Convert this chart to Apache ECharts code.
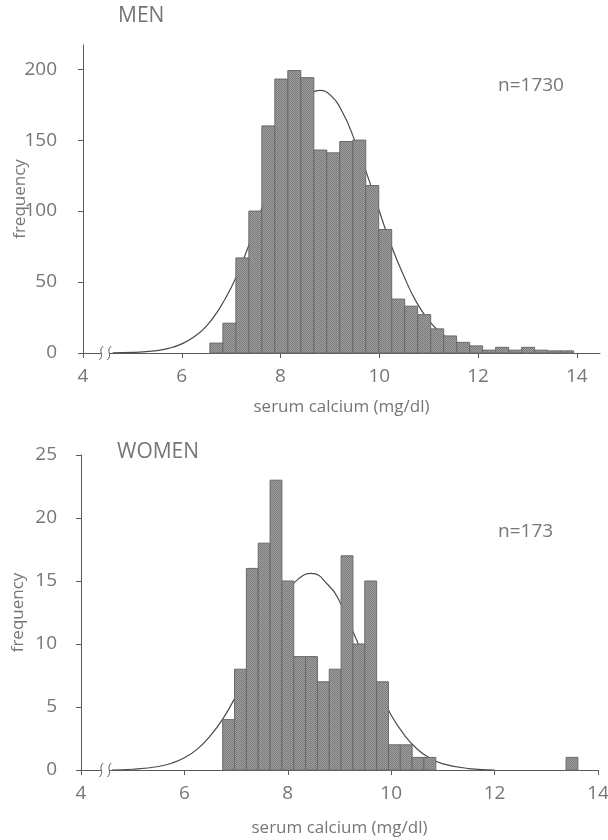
<!DOCTYPE html>
<html><head><meta charset="utf-8">
<script src="https://cdn.jsdelivr.net/npm/echarts@6/dist/echarts.min.js"></script>
<style>html,body{margin:0;padding:0;background:#fff}#c{width:608px;height:840px}</style>
</head><body><div id="c"></div>
<script>
// ---- data ----
const xTicks = [4, 6, 8, 10, 12, 14];
const menYTicks = [0, 50, 100, 150, 200];
const womenYTicks = [0, 5, 10, 15, 20, 25];

const menBinStart = 6.57;
const menBinWidth = 0.263;
const menCounts = [7, 21, 67, 100, 160, 193, 199, 194, 143, 141, 149, 150, 118, 87,
                   38, 33, 27, 17, 12, 7.5, 5, 2, 4, 2, 4, 2, 1.5, 1.5];
const menCurveX = [4.6, 5.0, 5.5, 5.75, 6.0, 6.25, 6.5, 6.75, 7.0, 7.25, 7.5, 7.75, 8.0, 8.25, 8.5, 8.8,
                   9.0, 9.25, 9.5, 9.75, 10.0, 10.25, 10.5, 10.75, 11.0, 11.25, 11.5, 11.75, 12.0, 12.5, 13.0, 13.5];
const menCurveY = [0.1, 0.4, 1.7, 3.4, 6.4, 11.4, 19, 30.6, 46, 66, 90, 115, 141, 162, 178, 185,
                   182, 170, 150, 126, 100, 75, 54, 36, 23, 14, 8, 4.4, 2.3, 0.5, 0.1, 0];

const womenBinStart = 6.741;
const womenBinWidth = 0.229;
const womenCounts = [4, 8, 16, 18, 23, 15, 9, 9, 7, 8, 17, 10, 15, 7, 2, 2, 1, 1,
                     0, 0, 0, 0, 0, 0, 0, 0, 0, 0, 0, 1];
const womenCurveX = [4.6, 5.0, 5.5, 5.75, 6.0, 6.25, 6.5, 6.75, 7.0, 7.25, 7.5, 7.75, 8.0, 8.2, 8.45,
                     8.8, 9.0, 9.25, 9.5, 9.75, 10.0, 10.25, 10.5, 10.75, 11.0, 11.5, 12.0];
const womenCurveY = [0, 0.06, 0.28, 0.54, 0.97, 1.66, 2.7, 4.1, 5.9, 8.0, 10.3, 12.4, 14.2, 15.15, 15.6,
                     14.6, 13.4, 11.1, 8.7, 6.4, 4.35, 2.8, 1.67, 0.94, 0.49, 0.11, 0];

// ---- chart ----
const TXT = '#767676';
const AX = '#5a5a5a';
const FONT = 'Open Sans';

function makePattern() {
  const c = document.createElement('canvas');
  c.width = 2; c.height = 2;
  const g = c.getContext('2d');
  g.fillStyle = '#a0a0a0'; g.fillRect(0, 0, 2, 2);
  g.fillStyle = '#7a7a7a'; g.fillRect(0, 0, 1, 1); g.fillRect(1, 1, 1, 1);
  return c;
}
const pat = { image: makePattern(), repeat: 'repeat' };

function bins(start, width, counts) {
  return counts.map((c, i) => [start + i * width, start + (i + 1) * width, c]);
}
function renderBar(params, api) {
  const v = api.value(2);
  if (!v) return null;
  const p1 = api.coord([api.value(0), v]);
  const p2 = api.coord([api.value(1), 0]);
  return {
    type: 'rect',
    shape: { x: p1[0], y: p1[1], width: p2[0] - p1[0], height: p2[1] - p1[1] },
    style: { fill: pat, stroke: '#6a6a6a', lineWidth: 1 }
  };
}
function xAxis(idx, max, gap) {
  return {
    gridIndex: idx, type: 'value', min: 4, max: max,
    name: 'serum calcium (mg/dl)', nameLocation: 'middle', nameGap: gap, nameMoveOverlap: false,
    nameTextStyle: { color: TXT, fontSize: 17, fontFamily: FONT },
    axisLine: { show: true, onZero: false, lineStyle: { color: AX, width: 1 } },
    axisTick: { show: true, length: 5, customValues: xTicks, lineStyle: { color: AX } },
    axisLabel: { customValues: xTicks, margin: 14, color: TXT, fontSize: 19, fontFamily: FONT },
    splitLine: { show: false }
  };
}
function yAxis(idx, max, ticks, margin) {
  return {
    gridIndex: idx, type: 'value', min: 0, max: max,
    name: 'frequency', nameLocation: 'middle', nameGap: 54, nameRotate: 90, nameMoveOverlap: false,
    nameTextStyle: { color: TXT, fontSize: 17, fontFamily: FONT },
    axisLine: { show: true, lineStyle: { color: AX, width: 1 } },
    axisTick: { show: true, length: 5, customValues: ticks, lineStyle: { color: AX } },
    axisLabel: { customValues: ticks, margin: margin, color: TXT, fontSize: 19, fontFamily: FONT },
    splitLine: { show: false }
  };
}

const chart = echarts.init(document.getElementById('c'), null, { renderer: 'canvas' });
const tStyle = (fs) => ({ color: TXT, fontSize: fs, fontWeight: 'normal', fontFamily: FONT });
chart.setOption({
  animation: false,
  backgroundColor: '#fff',
  title: [
    { text: 'MEN', left: 118, top: 6, padding: 0, textStyle: tStyle(21) },
    { text: 'n=1730', left: 498, top: 76, padding: 0, textStyle: tStyle(19) },
    { text: 'WOMEN', left: 117, top: 442, padding: 0, textStyle: tStyle(21) },
    { text: 'n=173', left: 498, top: 522, padding: 0, textStyle: tStyle(19) }
  ],
  grid: [
    { left: 83, top: 45, width: 517, height: 308, outerBoundsMode: 'none', containLabel: false },
    { left: 81, top: 455, width: 517, height: 315, outerBoundsMode: 'none', containLabel: false }
  ],
  xAxis: [xAxis(0, 14.47, 46), xAxis(1, 14, 50)],
  yAxis: [yAxis(0, 217, menYTicks, 26), yAxis(1, 25, womenYTicks, 24)],
  series: [
    { type: 'line', xAxisIndex: 0, yAxisIndex: 0, smooth: true, symbol: 'none',
      lineStyle: { color: '#4a4a4a', width: 1.2 }, data: menCurveX.map((x, i) => [x, menCurveY[i]]), z: 1 },
    { type: 'custom', xAxisIndex: 0, yAxisIndex: 0, renderItem: renderBar,
      encode: { x: [0, 1], y: 2 }, data: bins(menBinStart, menBinWidth, menCounts), z: 2 },
    { type: 'line', xAxisIndex: 1, yAxisIndex: 1, smooth: true, symbol: 'none',
      lineStyle: { color: '#4a4a4a', width: 1.2 }, data: womenCurveX.map((x, i) => [x, womenCurveY[i]]), z: 1 },
    { type: 'custom', xAxisIndex: 1, yAxisIndex: 1, renderItem: renderBar,
      encode: { x: [0, 1], y: 2 }, data: bins(womenBinStart, womenBinWidth, womenCounts), z: 2 }
  ]
});

// axis break marks
function breakMark(gridIdx, xv) {
  const p = chart.convertToPixel({ xAxisIndex: gridIdx, yAxisIndex: gridIdx }, [xv, 0]);
  const x = p[0], y = p[1];
  const s = (dx) => ({
    type: 'bezierCurve',
    shape: { x1: x + dx + 2, y1: y - 7, x2: x + dx - 2, y2: y + 7,
             cpx1: x + dx - 4, cpy1: y - 2, cpx2: x + dx + 4, cpy2: y + 2 },
    style: { stroke: AX, lineWidth: 1, fill: null }, z: 10
  });
  return [
    { type: 'rect', shape: { x: x - 4, y: y - 2, width: 8, height: 4 }, style: { fill: '#fff' }, z: 9 },
    s(-4), s(4)
  ];
}
chart.setOption({ graphic: breakMark(0, 4.45).concat(breakMark(1, 4.47)) });
</script>
</body></html>
